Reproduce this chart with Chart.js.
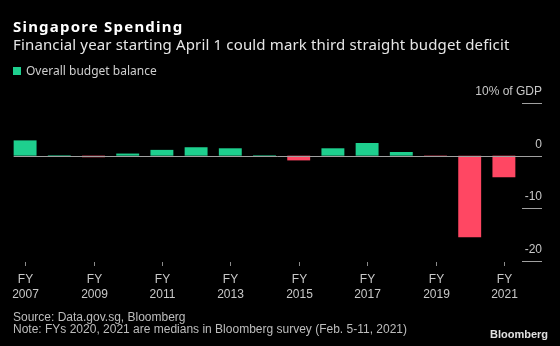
<!DOCTYPE html>
<html lang="en">
<head>
    <meta charset="UTF-8">
    <title>Singapore Spending</title>
    <style>
        body {
            margin: 0;
            width: 560px;
            height: 346px;
            background: #000;
            overflow: hidden;
            position: relative;
            font-family: "Liberation Sans", Arial, sans-serif;
        }
        #chart-container {
            position: absolute;
            left: 0;
            top: 0;
            width: 560px;
            height: 346px;
        }
        .txt { position: absolute; left: 13px; white-space: nowrap; }
        .title { top: 18px; font-family: "Noto Sans", sans-serif; font-size: 15px; line-height: 17px; font-weight: bold; color: #fff; letter-spacing: 1.2px; }
        .subtitle { top: 35.7px; font-family: "Noto Sans", sans-serif; font-size: 15px; line-height: 17px; color: #e6e6e6; letter-spacing: 0.15px; }
        .legend { top: 64.3px; font-family: "Noto Sans", sans-serif; font-size: 12px; line-height: 14px; color: #cfcfcf; }
        .legend .swatch { display: inline-block; width: 8px; height: 8px; background: #1ecf8e; margin-right: 5px; vertical-align: 0px; }
        .source { top: 309.5px; font-size: 12px; line-height: 14px; color: #bdbdbd; }
        .note { top: 322.2px; font-size: 12px; line-height: 14px; color: #bdbdbd; }
        .logo { position: absolute; right: 12px; top: 327.7px; font-size: 11px; line-height: 13px; font-weight: bold; color: #e0e0e0; }
    </style>
    <script src="https://cdn.jsdelivr.net/npm/chart.js"></script>
</head>
<body>
    <div id="chart-container">
        <canvas id="budgetChart" width="560" height="346"></canvas>
    </div>
    <div class="txt title">Singapore Spending</div>
    <div class="txt subtitle">Financial year starting April 1 could mark third straight budget deficit</div>
    <div class="txt legend"><span class="swatch"></span>Overall budget balance</div>
    <div class="txt source">Source: Data.gov.sg, Bloomberg</div>
    <div class="txt note">Note: FYs 2020, 2021 are medians in Bloomberg survey (Feb. 5-11, 2021)</div>
    <div class="logo">Bloomberg</div>

    <script>
        // Overall budget balance, % of GDP
        const years = ['2007', '2008', '2009', '2010', '2011', '2012', '2013', '2014',
                       '2015', '2016', '2017', '2018', '2019', '2020', '2021'];
        const balance = [2.9, 0.1, -0.3, 0.4, 1.1, 1.6, 1.4, 0.1,
                         -0.9, 1.4, 2.4, 0.7, -0.2, -15.5, -4.1];
        const yTicks = [10, 0, -10, -20];
        const yTickLabels = ['10% of GDP', '0', '-10', '-20'];
        const xTickYears = ['2007', '2009', '2011', '2013', '2015', '2017', '2019', '2021'];

        const green = '#1ecf8e';
        const red = '#ff4763';

        // draws the right-hand axis and FY labels like the Bloomberg style
        const axisOverlay = {
            id: 'axisOverlay',
            afterDatasetsDraw(chart) {
                const { ctx, chartArea, scales: { x, y } } = chart;
                const first = chart.getDatasetMeta(0).data[0];
                const right = chartArea.right + 21;
                ctx.save();
                ctx.lineWidth = 1;
                ctx.strokeStyle = '#a0a0a0';
                ctx.fillStyle = '#c8c8c8';
                ctx.font = '12px "Liberation Sans", Arial, sans-serif';
                ctx.textAlign = 'right';
                ctx.textBaseline = 'alphabetic';
                yTicks.forEach((v, i) => {
                    const py = Math.round(y.getPixelForValue(v)) + 0.5;
                    const x0 = v === 0 ? first.x - first.width / 2 : chartArea.right + 1;
                    ctx.beginPath();
                    ctx.moveTo(x0, py);
                    ctx.lineTo(right, py);
                    ctx.stroke();
                    ctx.fillText(yTickLabels[i], right, py - 9);
                });

                ctx.textAlign = 'center';
                ctx.strokeStyle = '#8a8a8a';
                xTickYears.forEach(yr => {
                    const px = Math.round(x.getPixelForValue(years.indexOf(yr))) + 0.5;
                    ctx.beginPath();
                    ctx.moveTo(px, chartArea.bottom + 1);
                    ctx.lineTo(px, chartArea.bottom + 5);
                    ctx.stroke();
                    ctx.fillText('FY', px, chartArea.bottom + 22);
                    ctx.fillText(yr, px, chartArea.bottom + 37);
                });
                ctx.restore();
            }
        };

        const ctx = document.getElementById('budgetChart').getContext('2d');
        const budgetChart = new Chart(ctx, {
            type: 'bar',
            data: {
                labels: years,
                datasets: [{
                    label: 'Overall budget balance',
                    data: balance,
                    backgroundColor: balance.map(v => v < 0 ? red : green),
                    borderWidth: 0,
                    barPercentage: 0.67,
                    categoryPercentage: 1
                }]
            },
            options: {
                responsive: false,
                animation: false,
                layout: { padding: { left: 8, right: 39, top: 103, bottom: 85 } },
                plugins: {
                    legend: { display: false },
                    tooltip: { enabled: false }
                },
                scales: {
                    x: { display: false },
                    y: { display: false, min: -20, max: 10 }
                }
            },
            plugins: [axisOverlay]
        });
    </script>
</body>
</html>
